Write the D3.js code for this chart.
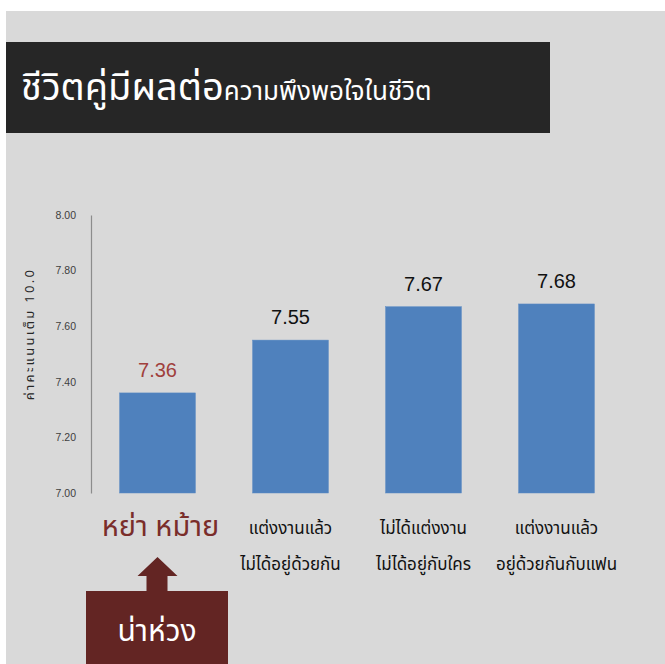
<!DOCTYPE html>
<html><head><meta charset="utf-8">
<script src="https://cdn.jsdelivr.net/npm/d3@7"></script>
<style>
html,body{margin:0;padding:0;background:#fff;}
svg{display:block;}
text{font-family:Tahoma,"Noto Sans Thai","Noto Sans",sans-serif;}
</style></head>
<body>
<script>
const categories = ["หย่า หม้าย", "แต่งงานแล้ว\nไม่ได้อยู่ด้วยกัน", "ไม่ได้แต่งงาน\nไม่ได้อยู่กับใคร", "แต่งงานแล้ว\nอยู่ด้วยกันกับแฟน"];
const values = [7.36, 7.55, 7.67, 7.68];
const yTicks = [7.00, 7.20, 7.40, 7.60, 7.80, 8.00];
const titleBig = "ชีวิตคู่มีผลต่อ";
const titleSmall = "ความพึงพอใจในชีวิต";
const yTitle = "ค่าคะแนนเต็ม 10.0";
const callout = "น่าห่วง";

const W = 665, H = 664;
const svg = d3.select("body").append("svg").attr("width", W).attr("height", H);

svg.append("rect").attr("x", 6).attr("y", 11).attr("width", W - 6).attr("height", H - 11).attr("fill", "#d9d9d9");

// Title box
svg.append("rect").attr("x", 6).attr("y", 42).attr("width", 544).attr("height", 91).attr("fill", "#262626");
const t = svg.append("text").attr("x", 21).attr("y", 100).attr("fill", "#ffffff");
t.append("tspan").attr("font-size", 38).text(titleBig);
t.append("tspan").attr("font-size", 26).text(titleSmall);

const y = d3.scaleLinear().domain([7, 8]).range([493, 215]);
const x = d3.scaleBand().domain(categories).range([91, 623]).paddingInner(0.43).paddingOuter(0.215);

const latin = "'Liberation Sans', Arial, sans-serif";

// Y axis
const yAxis = d3.axisLeft(y).tickValues(yTicks).tickFormat(d3.format(".2f")).tickSize(0).tickPadding(15);
const ga = svg.append("g").attr("transform", "translate(91,0)").call(yAxis);
ga.select(".domain").attr("stroke", "#8c8c8c").attr("stroke-width", 1.2);
ga.selectAll("text").style("font-family", latin).style("font-size", "10.5px").attr("fill", "#404040");

svg.append("text").attr("transform", "translate(34,334) rotate(-90)").attr("text-anchor", "middle")
  .attr("font-size", 13).attr("letter-spacing", 2.3).attr("fill", "#262626").text(yTitle);

// Bars
svg.selectAll("rect.bar").data(values).enter().append("rect").attr("class", "bar")
  .attr("x", (d, i) => x(categories[i])).attr("width", x.bandwidth())
  .attr("y", d => y(d)).attr("height", d => y(7) - y(d))
  .attr("fill", "#4f81bd").attr("stroke", "#5b8ac4").attr("stroke-width", 0.5);

// Value labels
svg.selectAll("text.val").data(values).enter().append("text").attr("class", "val")
  .attr("x", (d, i) => x(categories[i]) + x.bandwidth() / 2)
  .attr("y", d => y(d) - 16).attr("text-anchor", "middle")
  .style("font-family", latin).style("font-size", "20px")
  .attr("fill", (d, i) => i === 0 ? "#a0403c" : "#111").text(d => d.toFixed(2));

// Category labels
categories.forEach((c, i) => {
  const cx = x(c) + x.bandwidth() / 2;
  const lines = c.split("\n");
  if (i === 0) {
    svg.append("text").attr("x", cx + 3).attr("y", 536).attr("text-anchor", "middle")
      .attr("font-size", 29).attr("fill", "#7a2d2a").text(lines[0]);
  } else {
    lines.forEach((l, j) => {
      svg.append("text").attr("x", cx).attr("y", 534 + j * 36).attr("text-anchor", "middle")
        .attr("font-size", 17).attr("fill", "#111").text(l);
    });
  }
});

// Arrow + callout
const ax = x(categories[0]) + x.bandwidth() / 2;
const arrow = d3.path();
arrow.moveTo(ax, 557); arrow.lineTo(ax + 20, 576); arrow.lineTo(ax + 10, 576); arrow.lineTo(ax + 10, 592);
arrow.lineTo(ax - 11, 592); arrow.lineTo(ax - 11, 576); arrow.lineTo(ax - 20, 576); arrow.closePath();
svg.append("path").attr("d", arrow.toString()).attr("fill", "#632523");
svg.append("rect").attr("x", 86).attr("y", 591).attr("width", 142).attr("height", 80).attr("fill", "#632523");
svg.append("text").attr("x", 157).attr("y", 641).attr("text-anchor", "middle").attr("font-size", 30)
  .attr("fill", "#ffffff").text(callout);
</script>
</body></html>
